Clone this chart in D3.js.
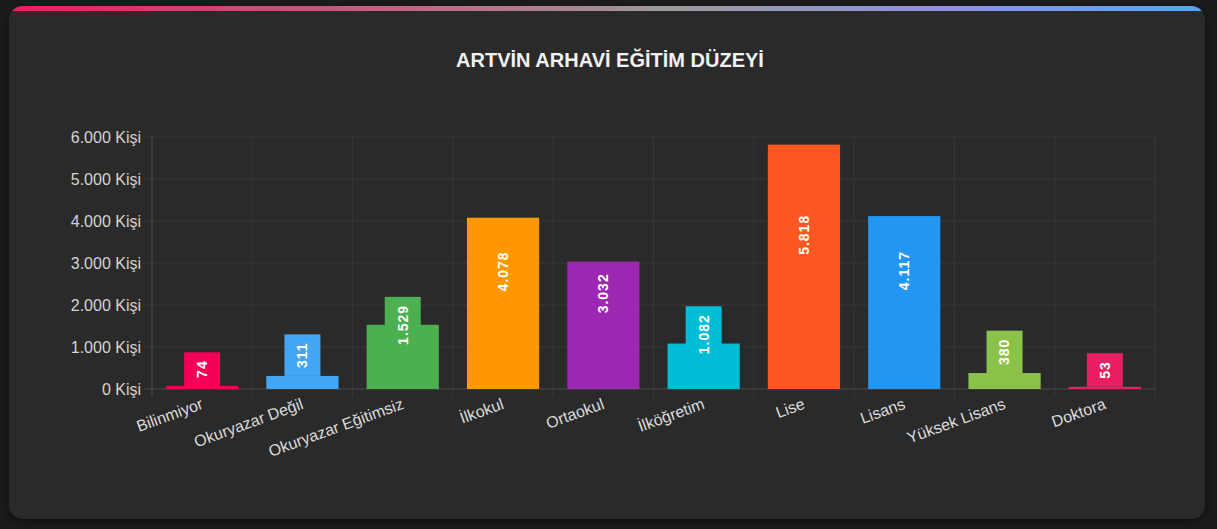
<!DOCTYPE html>
<html>
<head>
<meta charset="utf-8">
<script src="https://d3js.org/d3.v7.min.js"></script>
<style>
  html, body { margin: 0; padding: 0; background: #1b1b1b; }
  svg { display: block; font-family: "Liberation Sans", Arial, sans-serif; }
</style>
</head>
<body>
<script>
// veriler
var categories = ["Bilinmiyor", "Okuryazar Değil", "Okuryazar Eğitimsiz", "İlkokul", "Ortaokul",
                  "İlköğretim", "Lise", "Lisans", "Yüksek Lisans", "Doktora"];
var values = [74, 311, 1529, 4078, 3032, 1082, 5818, 4117, 380, 53];
var colors = ["#f50057", "#42a5f5", "#4caf50", "#ff9800", "#9c27b0",
              "#00bcd4", "#ff5722", "#2196f3", "#8bc34a", "#e91e63"];
var yTicks = [0, 1000, 2000, 3000, 4000, 5000, 6000];
var title = "ARTVİN ARHAVİ EĞİTİM DÜZEYİ";

(function(){
var W = 1217, H = 529;
var mLeft = 152, mRight = 1155, mTop = 137, mBottom = 389;
var fmt = function(v){ return d3.format(",")(v).replace(/,/g, "."); };

var svg = d3.select("body").append("svg").attr("width", W).attr("height", H);
var defs = svg.append("defs");

// kart
var grad = defs.append("linearGradient").attr("id", "topbar").attr("x1", "0%").attr("x2", "100%");
[["0%", "#e91e63"], ["30%", "#c85c7e"], ["55%", "#9a9a9a"], ["80%", "#8c8fe6"], ["100%", "#4fa8f7"]]
  .forEach(function(s){ grad.append("stop").attr("offset", s[0]).attr("stop-color", s[1]); });
var shadow = defs.append("filter").attr("id", "sh").attr("x", "-5%").attr("y", "-5%").attr("width", "110%").attr("height", "115%");
shadow.append("feDropShadow").attr("dx", 0).attr("dy", 3).attr("stdDeviation", 4).attr("flood-color", "#000").attr("flood-opacity", 0.5);
var clip = defs.append("clipPath").attr("id", "cardclip");
clip.append("rect").attr("x", 9).attr("y", 6).attr("width", 1196).attr("height", 513).attr("rx", 14);

svg.append("rect").attr("x", 9).attr("y", 6).attr("width", 1196).attr("height", 513).attr("rx", 14)
  .attr("fill", "#2a2a2a").attr("filter", "url(#sh)");
svg.append("rect").attr("x", 9).attr("y", 6).attr("width", 1196).attr("height", 5)
  .attr("fill", "url(#topbar)").attr("clip-path", "url(#cardclip)");

svg.append("text").attr("x", 610).attr("y", 67).attr("text-anchor", "middle")
  .attr("fill", "#f2f2f2").attr("font-size", 20).attr("font-weight", "bold").text(title);

// ölçekler
var x = d3.scaleBand().domain(categories).range([mLeft, mRight]).paddingInner(0.28).paddingOuter(0.14);
var xGrid = d3.scaleLinear().domain([0, categories.length]).range([mLeft, mRight]);
var y = d3.scaleLinear().domain([0, 6000]).range([mBottom, mTop]);

// ızgara
var grid = svg.append("g");
grid.selectAll(".hg").data(yTicks).enter().append("line")
  .attr("x1", mLeft - 8).attr("x2", mRight).attr("y1", function(d){ return y(d); }).attr("y2", function(d){ return y(d); })
  .attr("stroke", function(d){ return d === 0 ? "#4a4a4a" : "#383838"; }).attr("stroke-width", 1);
grid.selectAll(".vg").data(d3.range(categories.length + 1)).enter().append("line")
  .attr("x1", function(d){ return xGrid(d); }).attr("x2", function(d){ return xGrid(d); })
  .attr("y1", mTop).attr("y2", mBottom + 8)
  .attr("stroke", function(d){ return d === 0 ? "#4a4a4a" : "#383838"; }).attr("stroke-width", 1);

// eksenler
var yAxis = d3.axisLeft(y).tickValues(yTicks).tickSize(0).tickPadding(11)
  .tickFormat(function(d){ return fmt(d) + " Kişi"; });
var yG = svg.append("g").attr("transform", "translate(" + mLeft + ",0)").call(yAxis);
yG.select(".domain").remove();
yG.selectAll("text").attr("fill", "#d4d4d4").attr("font-size", 16).attr("font-family", "Liberation Sans, Arial, sans-serif");

var xAxis = d3.axisBottom(x).tickSize(0).tickPadding(0);
var xG = svg.append("g").attr("transform", "translate(0," + mBottom + ")").call(xAxis);
xG.select(".domain").remove();
xG.selectAll("text").attr("fill", "#dcdcdc").attr("font-size", 16)
  .attr("font-family", "Liberation Sans, Arial, sans-serif")
  .attr("text-anchor", "end").attr("dy", "0.35em")
  .attr("transform", "translate(0,14) rotate(-20)");

// çubuklar
var bars = svg.append("g");
bars.selectAll("rect").data(values).enter().append("rect")
  .attr("x", function(d, i){ return x(categories[i]); })
  .attr("width", x.bandwidth())
  .attr("y", function(d){ return y(d); })
  .attr("height", function(d){ return y(0) - y(d); })
  .attr("fill", function(d, i){ return colors[i]; });

// değer etiketleri (döndürülmüş, kutulu)
var lab = svg.append("g");
values.forEach(function(v, i){
  var cx = x(categories[i]) + x.bandwidth() / 2;
  var g = lab.append("g");
  var t = g.append("text").attr("text-anchor", "middle").attr("dy", "0.35em")
    .attr("fill", "#ffffff").attr("font-size", 14).attr("font-weight", "bold")
    .attr("letter-spacing", 1).text(fmt(v));
  var tw = t.node().getComputedTextLength();
  var bh = tw + 16, bw = 36;
  var cy = Math.max(y(v) - bh / 2, (y(v) + y(0)) / 2 - 32);
  g.insert("rect", "text").attr("x", -bh / 2).attr("y", -bw / 2).attr("width", bh).attr("height", bw)
    .attr("fill", colors[i]);
  g.attr("transform", "translate(" + cx + "," + cy + ") rotate(-90)");
});
})();
</script>
</body>
</html>
